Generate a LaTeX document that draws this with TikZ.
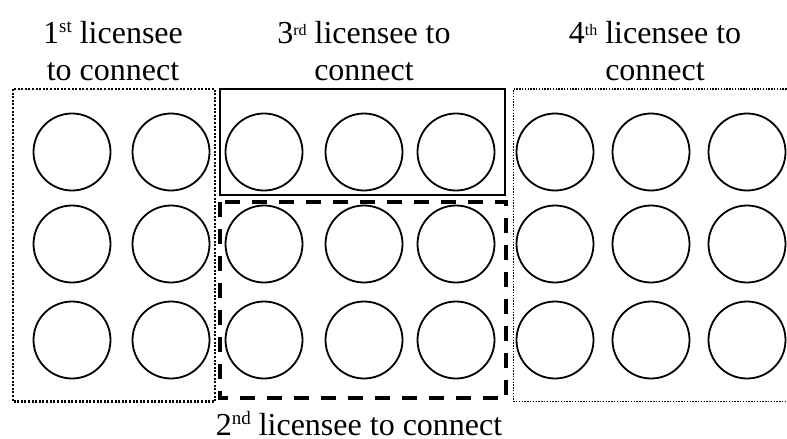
\documentclass[tikz,border=0pt]{standalone}
\usepackage{fontspec}
\setmainfont{Liberation Serif}
\newcommand\supA[1]{\raisebox{11pt}{\fontsize{19}{19}\selectfont #1}}
\newcommand\supB[1]{\raisebox{8pt}{\fontsize{16}{16}\selectfont #1}}
\begin{document}
\begin{tikzpicture}[x=1pt,y=-1pt,
  seat/.style={circle,draw,line width=1.8pt,minimum size=77pt,inner sep=0pt},
  lbl/.style={font=\fontsize{32}{37}\selectfont,align=center,inner sep=0pt},
  firstbox/.style={line width=2.4pt,dash pattern=on 2pt off 1.6pt},
  thirdbox/.style={line width=1.9pt},
  secondbox/.style={line width=4pt,dash pattern=on 15pt off 12pt},
  fourthbox/.style={line width=1.6pt,dash pattern=on 1.4pt off 1.4pt}]
\useasboundingbox (0,0) rectangle (787,439);

% group outlines
\draw[firstbox] (13,89) rectangle (215,401.5);
\draw[thirdbox] (220,89) rectangle (505,195);
\draw[secondbox] (220,201.5) rectangle (506,398);
\draw[fourthbox] (795,89) -- (513.5,89) -- (513.5,401.5) -- (795,401.5);

% grid of seats
\foreach \c/\x in {1/72,2/171,3/264,4/364,5/456,6/555,7/651,8/747}
  \foreach \r/\y in {1/152,2/244,3/340}
    \node[seat] (s-\r-\c) at (\x,\y) {};

% captions (base anchor sits on the last line)
\node[lbl,anchor=base] (l1) at (113,80) {1\supA{st} licensee\\to connect};
\node[lbl,anchor=base] (l3) at (364,80) {3\supB{rd} licensee to\\connect};
\node[lbl,anchor=base] (l4) at (655,80) {4\supB{th} licensee to\\connect};
\node[lbl,anchor=base] (l2) at (359,435) {2\supA{nd} licensee to connect};
\end{tikzpicture}
\end{document}
